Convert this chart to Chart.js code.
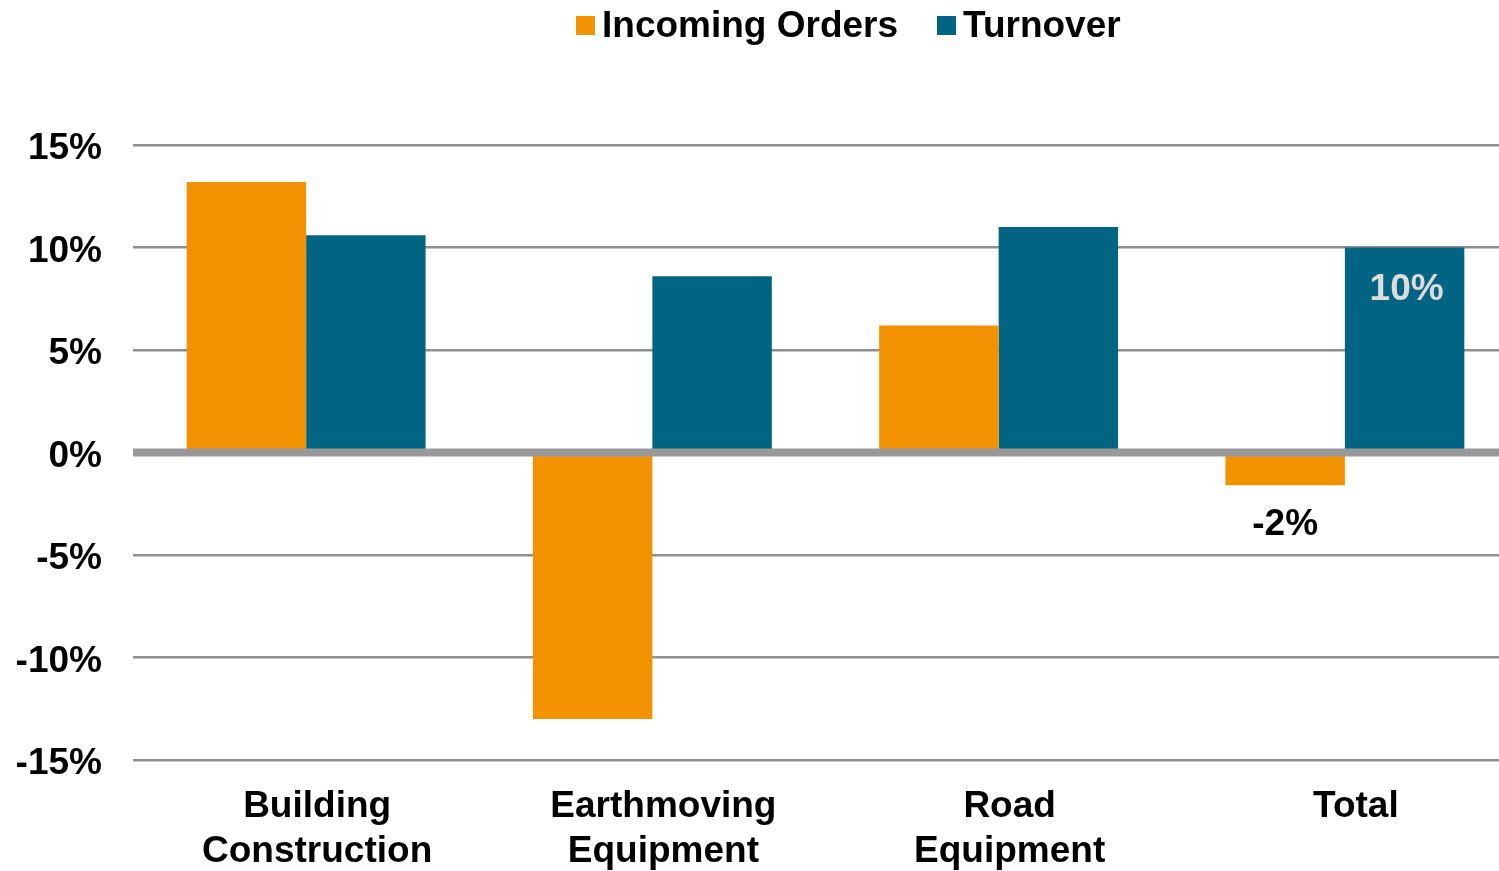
<!DOCTYPE html>
<html>
<head>
<meta charset="utf-8">
<script src="https://cdn.jsdelivr.net/npm/chart.js@4/dist/chart.umd.min.js"></script>
<style>
  html, body { margin: 0; padding: 0; background: #fff; overflow: hidden; }
  #wrap { position: relative; width: 1499px; height: 871px; overflow: hidden; }
  #legend { position: absolute; left: 576px; top: 4px; display: flex; align-items: center;
            font: bold 37px "Liberation Sans", Arial, sans-serif; color: #000; }
  #legend .item { display: flex; align-items: center; margin-right: 39px; }
  #legend .box { width: 19px; height: 19px; margin-right: 7px; }
</style>
</head>
<body>
<div id="wrap">
  <div id="legend"></div>
  <canvas id="chart" width="1519" height="871"></canvas>
</div>
<script>
// data
const categories = [['Building', 'Construction'], ['Earthmoving', 'Equipment'], ['Road', 'Equipment'], 'Total'];
const incomingOrders = [13.2, -13.0, 6.2, -1.6];
const turnover = [10.6, 8.6, 11.0, 10.0];
const incomingLabels = [null, null, null, '-2%'];
const turnoverLabels = [null, null, null, '10%'];
const yTicks = [-15, -10, -5, 0, 5, 10, 15];

const ORANGE = '#F39200';
const TEAL = '#006482';
const FONT = '"Liberation Sans", Arial, sans-serif';

// zero line on top of the bars + the two value labels
const overlay = {
    id: 'overlay',
    afterDatasetsDraw(chart) {
        const ctx = chart.ctx;
        const area = chart.chartArea;
        const y0 = chart.scales.y.getPixelForValue(0);
        ctx.save();
        ctx.fillStyle = '#999999';
        ctx.fillRect(area.left, y0 - 4, area.right - area.left, 8);

        ctx.font = 'bold 37px ' + FONT;
        ctx.textAlign = 'center';
        ctx.textBaseline = 'middle';
        chart.getDatasetMeta(0).data.forEach((bar, i) => {
            if (!incomingLabels[i]) return;
            ctx.fillStyle = '#000';
            ctx.fillText(incomingLabels[i], bar.x, bar.y + 39);
        });
        chart.getDatasetMeta(1).data.forEach((bar, i) => {
            if (!turnoverLabels[i]) return;
            ctx.fillStyle = '#dcdcdc';
            ctx.fillText(turnoverLabels[i], bar.x + 2, bar.y + 42);
        });
        ctx.restore();
    }
};

const chart = new Chart(document.getElementById('chart'), {
    type: 'bar',
    data: {
        labels: categories,
        datasets: [
            { label: 'Incoming Orders', data: incomingOrders, backgroundColor: ORANGE },
            { label: 'Turnover', data: turnover, backgroundColor: TEAL }
        ]
    },
    options: {
        responsive: false,
        animation: false,
        categoryPercentage: 0.69,
        barPercentage: 1.0,
        layout: { padding: { top: 145, right: 1, bottom: 0, left: 0 } },
        plugins: {
            legend: { display: false },
            tooltip: { enabled: false }
        },
        scales: {
            x: {
                grid: { display: false },
                border: { display: false },
                ticks: {
                    color: '#000',
                    font: { family: FONT, size: 37, weight: 'bold', lineHeight: 1.22 },
                    padding: 16,
                    labelOffset: 11,
                    maxRotation: 0
                },
                afterFit: s => { s.height = 111; }
            },
            y: {
                min: -15,
                max: 15,
                afterBuildTicks: s => { s.ticks = yTicks.map(v => ({ value: v })); },
                grid: {
                    drawTicks: false,
                    lineWidth: 2.5,
                    color: c => c.tick && c.tick.value === 0 ? 'rgba(0,0,0,0)' : '#8f8f8f'
                },
                border: { display: false },
                ticks: {
                    color: '#000',
                    font: { family: FONT, size: 37, weight: 'bold' },
                    padding: 31,
                    labelOffset: 4,
                    callback: v => v + '%'
                },
                afterFit: s => { s.width = 133; }
            }
        }
    },
    plugins: [overlay]
});

// legend built from the datasets
const legend = document.getElementById('legend');
chart.data.datasets.forEach(ds => {
    const item = document.createElement('div');
    item.className = 'item';
    const box = document.createElement('span');
    box.className = 'box';
    box.style.background = ds.backgroundColor;
    item.appendChild(box);
    item.appendChild(document.createTextNode(ds.label));
    legend.appendChild(item);
});
</script>
</body>
</html>
